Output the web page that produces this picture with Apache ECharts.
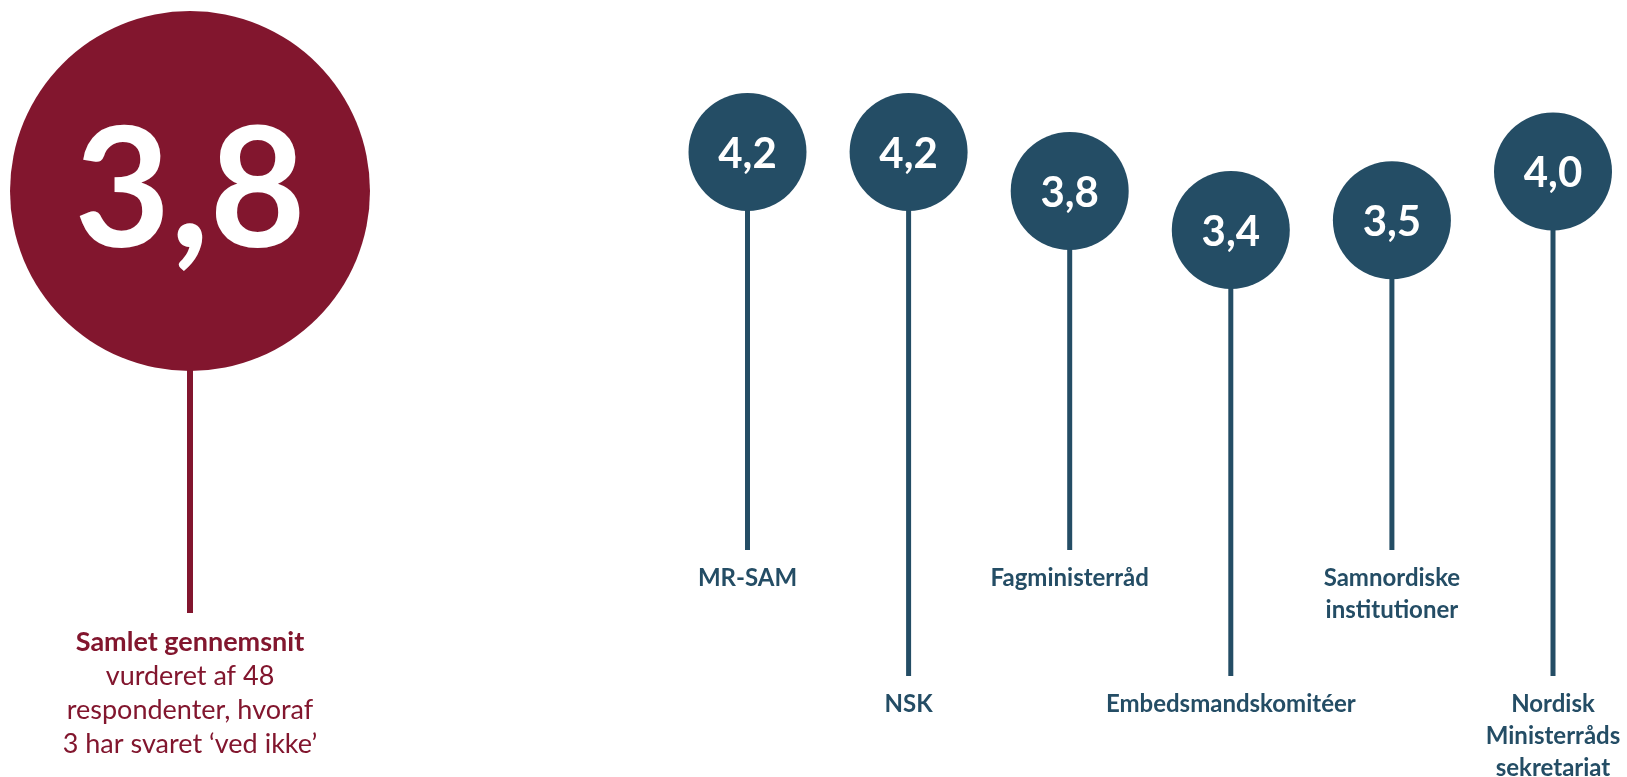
<!DOCTYPE html>
<html>
<head>
<meta charset="utf-8">
<script src="https://cdn.jsdelivr.net/npm/echarts@6/dist/echarts.min.js"></script>
<style>
html,body{margin:0;padding:0;background:#fff;}
#chart{width:1627px;height:777px;}
</style>
</head>
<body>
<div id="chart"></div>
<script>
// ---- data ----
var categories = ['MR-SAM', 'NSK', 'Fagministerråd', 'Embedsmandskomitéer', 'Samnordiske\ninstitutioner', 'Nordisk\nMinisterråds\nsekretariat'];
var values = [4.2, 4.2, 3.8, 3.4, 3.5, 4.0];
var overallCategory = ['Samlet gennemsnit'];
var overallValue = [3.8];
var overallNote = ['vurderet af 48', 'respondenter, hvoraf', '3 har svaret ‘ved ikke’'];

// ---- styles ----
var RED = '#82162E';
var BLUE = '#244D65';
var FONT = 'Lato, "Open Sans", sans-serif';
function fmt(v) { return v.toFixed(1).replace('.', ','); }

var chart = echarts.init(document.getElementById('chart'), null, {renderer: 'canvas'});

var shortBottom = 550, longBottom = 676;

var option = {
  animation: false,
  backgroundColor: '#ffffff',
  grid: [
    {left: 0, width: 380, top: 74, height: 487.5},
    {left: 747.5, width: 805.5, top: 74, height: 487.5}
  ],
  xAxis: [
    {gridIndex: 0, type: 'category', data: overallCategory, boundaryGap: true, show: false},
    {gridIndex: 1, type: 'category', data: categories, boundaryGap: false, show: false}
  ],
  yAxis: [
    {gridIndex: 0, type: 'value', min: 0, max: 5, show: false},
    {gridIndex: 1, type: 'value', min: 0, max: 5, show: false}
  ],
  series: [
    // big stem + label
    {
      type: 'custom',
      xAxisIndex: 0, yAxisIndex: 0,
      z: 1,
      data: overallValue.map(function (v, i) { return [i, v]; }),
      renderItem: function (params, api) {
        var p = api.coord([api.value(0), api.value(1)]);
        var bottom = 613;
        return {
          type: 'group',
          children: [
            {type: 'line', shape: {x1: p[0], y1: p[1], x2: p[0], y2: bottom}, style: {stroke: RED, lineWidth: 6}},
            {type: 'text', x: p[0], y: bottom + 12, style: {
              text: '{b|' + overallCategory[0] + '}\n' + overallNote.map(function (s) { return '{r|' + s + '}'; }).join('\n'),
              align: 'center', verticalAlign: 'top',
              rich: {
                b: {fontFamily: FONT, fontWeight: 'bold', fontSize: 27, lineHeight: 34, fill: RED, align: 'center'},
                r: {fontFamily: FONT, fontWeight: 'normal', fontSize: 27, lineHeight: 34, fill: RED, align: 'center'}
              }
            }}
          ]
        };
      }
    },
    // big circle
    {
      type: 'scatter',
      xAxisIndex: 0, yAxisIndex: 0,
      z: 3,
      symbol: 'circle',
      symbolSize: 360,
      itemStyle: {color: RED, opacity: 1},
      data: overallValue.map(function (v, i) { return [i, v]; }),
      label: {
        show: true, position: 'inside',
        formatter: function (p) { return fmt(p.value[1]); },
        fontFamily: FONT, fontWeight: 'bold', fontSize: 166, color: '#ffffff',
        offset: [0, 2]
      }
    },
    // small stems + labels
    {
      type: 'custom',
      xAxisIndex: 1, yAxisIndex: 1,
      z: 1,
      data: values.map(function (v, i) { return [i, v]; }),
      renderItem: function (params, api) {
        var idx = api.value(0);
        var p = api.coord([idx, api.value(1)]);
        var bottom = (idx % 2 === 0) ? shortBottom : longBottom;
        return {
          type: 'group',
          children: [
            {type: 'line', shape: {x1: p[0], y1: p[1], x2: p[0], y2: bottom}, style: {stroke: BLUE, lineWidth: 5}},
            {type: 'text', x: p[0], y: bottom + 12, style: {
              text: categories[idx],
              align: 'center', verticalAlign: 'top',
              fontFamily: FONT, fontWeight: 'bold', fontSize: 24, lineHeight: 32, fill: BLUE
            }}
          ]
        };
      }
    },
    // small circles
    {
      type: 'scatter',
      xAxisIndex: 1, yAxisIndex: 1,
      z: 3,
      symbol: 'circle',
      symbolSize: 118,
      itemStyle: {color: BLUE, opacity: 1},
      data: values.map(function (v, i) { return [i, v]; }),
      label: {
        show: true, position: 'inside',
        formatter: function (p) { return fmt(p.value[1]); },
        fontFamily: FONT, fontWeight: 'bold', fontSize: 42, color: '#ffffff',
        offset: [0, 2]
      }
    }
  ]
};
chart.setOption(option);
</script>
</body>
</html>
